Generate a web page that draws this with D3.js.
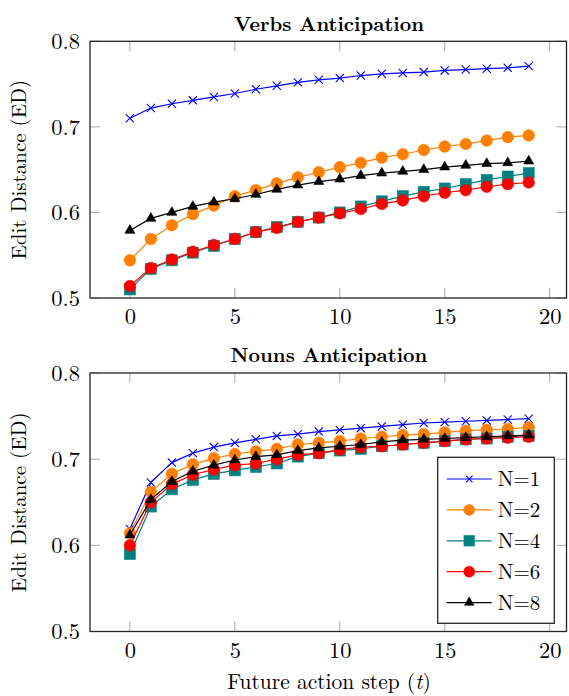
<!DOCTYPE html>
<html>
<head>
<meta charset="utf-8">
<script src="https://cdn.jsdelivr.net/npm/d3@7"></script>
</head>
<body style="margin:0">
<svg id="chart" width="569" height="696" style="display:block;background:#fff"></svg>
<script>
// ---- data ----
const steps = d3.range(0, 20);
const seriesNames = ["N=1", "N=2", "N=4", "N=6", "N=8"];
const seriesColors = ["#0000ff", "#ff8000", "#008080", "#ff0000", "#000000"];
const seriesMarks = ["x", "circle", "square", "circle", "triangle"];

const verbsN1 = [0.710,0.722,0.727,0.731,0.735,0.739,0.744,0.748,0.752,0.755,0.757,0.760,0.762,0.763,0.764,0.766,0.767,0.768,0.769,0.771];
const verbsN2 = [0.544,0.569,0.585,0.598,0.608,0.619,0.626,0.634,0.641,0.647,0.653,0.658,0.664,0.668,0.673,0.677,0.680,0.684,0.688,0.690];
const verbsN4 = [0.510,0.534,0.544,0.553,0.561,0.569,0.577,0.583,0.589,0.594,0.600,0.607,0.613,0.619,0.624,0.628,0.633,0.638,0.642,0.646];
const verbsN6 = [0.514,0.535,0.545,0.554,0.562,0.569,0.577,0.582,0.589,0.594,0.599,0.604,0.610,0.614,0.619,0.623,0.626,0.630,0.633,0.635];
const verbsN8 = [0.579,0.593,0.600,0.607,0.612,0.616,0.621,0.627,0.632,0.636,0.639,0.643,0.646,0.648,0.650,0.653,0.655,0.657,0.658,0.660];

const nounsN1 = [0.619,0.673,0.696,0.707,0.714,0.719,0.723,0.727,0.729,0.732,0.734,0.736,0.738,0.740,0.742,0.743,0.744,0.745,0.746,0.747];
const nounsN2 = [0.614,0.662,0.683,0.694,0.701,0.706,0.709,0.712,0.717,0.719,0.721,0.724,0.726,0.728,0.729,0.731,0.733,0.734,0.735,0.737];
const nounsN4 = [0.590,0.645,0.665,0.676,0.683,0.687,0.691,0.695,0.703,0.707,0.710,0.712,0.715,0.717,0.719,0.721,0.723,0.724,0.726,0.727];
const nounsN6 = [0.600,0.650,0.671,0.682,0.688,0.693,0.695,0.700,0.705,0.707,0.711,0.714,0.715,0.717,0.719,0.721,0.723,0.724,0.725,0.726];
const nounsN8 = [0.612,0.653,0.674,0.686,0.693,0.699,0.703,0.705,0.710,0.713,0.715,0.717,0.720,0.722,0.723,0.724,0.725,0.726,0.727,0.728];

const xTicks = [0, 5, 10, 15, 20];
const yTicks = [0.5, 0.6, 0.7, 0.8];

const panels = [
  {title: "Verbs Anticipation", series: [verbsN1, verbsN2, verbsN4, verbsN6, verbsN8], top: 41.3, bottom: 298, legend: false, xlabel: false},
  {title: "Nouns Anticipation", series: [nounsN1, nounsN2, nounsN4, nounsN6, nounsN8], top: 373, bottom: 631.5, legend: true, xlabel: true}
];

// ---- drawing ----
const CM = '"Latin Modern Roman"';
const svg = d3.select("#chart");
const left = 90, right = 566.5;
const x = d3.scaleLinear().domain([-1.9, 20.8]).range([left, right]);
const tickLen = 10;

function drawMark(g, type, color, px, py, s) {
  if (type === "circle") {
    g.append("circle").attr("cx", px).attr("cy", py).attr("r", 5.8 * s).attr("fill", color).attr("stroke", color).attr("stroke-width", 0.6);
  } else if (type === "square") {
    const h = 5.5 * s;
    g.append("rect").attr("x", px - h).attr("y", py - h).attr("width", 2 * h).attr("height", 2 * h).attr("fill", color).attr("stroke", color).attr("stroke-width", 0.6);
  } else if (type === "triangle") {
    const r = 5.8 * s;
    const pts = [[px, py - r], [px + r * Math.cos(Math.PI / 6), py + r / 2], [px - r * Math.cos(Math.PI / 6), py + r / 2]];
    g.append("polygon").attr("points", pts.map(p => p.join(",")).join(" ")).attr("fill", color).attr("stroke", color).attr("stroke-width", 0.6);
  } else if (type === "x") {
    const h = 4.1 * s;
    g.append("path").attr("d", `M${px - h},${py - h}L${px + h},${py + h}M${px - h},${py + h}L${px + h},${py - h}`).attr("stroke", color).attr("stroke-width", 1.1).attr("fill", "none");
  }
}

panels.forEach(p => {
  const y = d3.scaleLinear().domain([0.5, 0.8]).range([p.bottom, p.top]);
  const g = svg.append("g");

  // ticks (inside, on all four sides)
  const tg = g.append("g").attr("stroke", "#a8a8a8").attr("stroke-width", 1);
  xTicks.forEach(t => {
    tg.append("line").attr("x1", x(t)).attr("x2", x(t)).attr("y1", p.bottom).attr("y2", p.bottom - tickLen);
    tg.append("line").attr("x1", x(t)).attr("x2", x(t)).attr("y1", p.top).attr("y2", p.top + tickLen);
  });
  yTicks.forEach(t => {
    tg.append("line").attr("x1", left).attr("x2", left + tickLen).attr("y1", y(t)).attr("y2", y(t));
    tg.append("line").attr("x1", right).attr("x2", right - tickLen).attr("y1", y(t)).attr("y2", y(t));
  });

  // tick labels via d3 axes (lines hidden)
  const xAxis = d3.axisBottom(x).tickValues(xTicks).tickFormat(d3.format("d")).tickSize(0).tickPadding(0);
  const xa = g.append("g").attr("transform", `translate(0,${p.bottom})`).call(xAxis);
  xa.attr("font-family", null).attr("font-size", null);
  xa.select(".domain").remove();
  xa.selectAll("text").attr("fill", "#000").attr("y", 26).attr("dy", 0)
    .style("font-family", CM).style("font-size", "22.5px");

  const yAxis = d3.axisLeft(y).tickValues(yTicks).tickFormat(d3.format(".1f")).tickSize(0).tickPadding(0);
  const ya = g.append("g").attr("transform", `translate(${left},0)`).call(yAxis);
  ya.attr("font-family", null).attr("font-size", null);
  ya.select(".domain").remove();
  ya.selectAll("text").attr("fill", "#000").attr("x", -10).attr("dy", "0.32em")
    .style("font-family", CM).style("font-size", "22.5px");

  // series
  const line = d3.line().x((d, i) => x(steps[i])).y(d => y(d));
  p.series.forEach((vals, si) => {
    const sg = g.append("g");
    sg.append("path").datum(vals).attr("d", line).attr("fill", "none").attr("stroke", seriesColors[si]).attr("stroke-width", 1.2);
    vals.forEach((v, i) => drawMark(sg, seriesMarks[si], seriesColors[si], x(steps[i]), y(v), 1));
  });

  // frame
  g.append("rect").attr("x", left).attr("y", p.top).attr("width", right - left).attr("height", p.bottom - p.top)
    .attr("fill", "none").attr("stroke", "#262626").attr("stroke-width", 1.3);

  // title
  g.append("text").attr("x", 329).attr("y", p.top - 10.6).attr("text-anchor", "middle")
    .style("font-family", CM).style("font-size", "20px").style("font-weight", "bold").text(p.title);

  // y label
  g.append("text").attr("transform", `translate(25.5,${(p.top + p.bottom) / 2}) rotate(-90)`).attr("text-anchor", "middle")
    .style("font-family", CM).style("font-size", "21px").text("Edit Distance (ED)");

  if (p.xlabel) {
    const t = g.append("text").attr("x", 329).attr("y", 689.3).attr("text-anchor", "middle")
      .style("font-family", CM).style("font-size", "21.5px");
    t.append("tspan").text("Future action step (");
    t.append("tspan").style("font-style", "italic").text("t");
    t.append("tspan").text(")");
  }

  if (p.legend) {
    const lx = 437.7, ly = 457.3, lw = 116.6, lh = 166;
    const lg = g.append("g");
    lg.append("rect").attr("x", lx).attr("y", ly).attr("width", lw).attr("height", lh).attr("fill", "#fff").attr("stroke", "#262626").attr("stroke-width", 1.3);
    seriesNames.forEach((name, si) => {
      const cy = ly + 21.7 + si * 30.9;
      lg.append("line").attr("x1", lx + 9).attr("x2", lx + 54).attr("y1", cy).attr("y2", cy).attr("stroke", seriesColors[si]).attr("stroke-width", 1.2);
      drawMark(lg, seriesMarks[si], seriesColors[si], lx + 31.5, cy, seriesMarks[si] === "x" ? 0.8 : 0.95);
      lg.append("text").attr("x", lx + 60).attr("y", cy + 7)
        .style("font-family", CM).style("font-size", "21px").text(name);
    });
  }
});

svg.selectAll("text").attr("fill", "#000");
</script>
</body>
</html>
